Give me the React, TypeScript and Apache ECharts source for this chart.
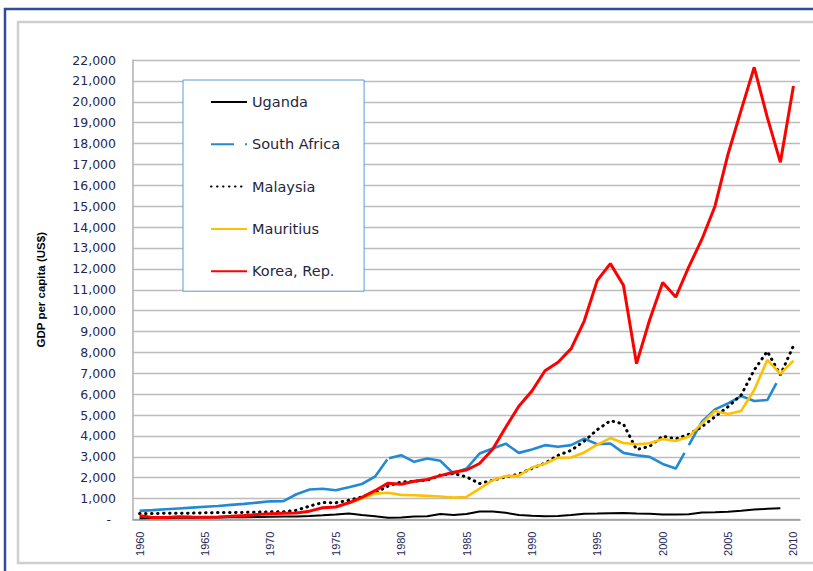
import React, { useEffect, useRef } from "react";
import * as echarts from "echarts";

const years: string[] = [];
for (let y = 1960; y <= 2010; y++) years.push(String(y));

const uganda = [
  65, 68, 70, 78, 88, 95, 100, 105, 110, 120,
  135, 140, 145, 170, 200, 240, 285, 210, 150, 85,
  90, 140, 160, 260, 220, 260, 380, 380, 320, 220,
  175, 160, 170, 220, 280, 285, 300, 315, 290, 270,
  240, 240, 255, 335, 350, 370, 415, 475, 510, 540,
  null,
];

const southAfrica = [
  413, 450, 490, 530, 570, 610, 650, 700, 750, 810,
  870, 880, 1210, 1440, 1470, 1400, 1540, 1700, 2050, 2920,
  3080, 2760, 2920, 2810, 2200, 2440, 3160, 3400, 3630, 3190,
  3350, 3560, 3480, 3560, 3870, 3600, 3640, 3190, 3080, 3000,
  2660, 2440, 3560, 4680, 5270, 5560, 5910, 5670, 5720, 6870,
  null,
];

const malaysia = [
  290, 290, 295, 300, 305, 320, 330, 330, 340, 355,
  365, 370, 440, 640, 810, 800, 920, 1080, 1280, 1600,
  1800, 1830, 1880, 2120, 2200, 2040, 1720, 1880, 2040, 2170,
  2450, 2700, 3070, 3310, 3750, 4300, 4730, 4570, 3350, 3500,
  3990, 3860, 4080, 4440, 4920, 5400, 5960, 7160, 8050, 6920,
  8320,
];

const mauritius = [
  null, null, null, null, null, null, null, null, null, null,
  null, null, null, null, null, null, 780, 1000, 1240, 1280,
  1180, 1160, 1130, 1100, 1050, 1080, 1480, 1880, 2080, 2100,
  2490, 2670, 2960, 2970, 3210, 3580, 3900, 3660, 3600, 3650,
  3850, 3760, 3970, 4600, 5200, 5050, 5200, 6200, 7640, 6970,
  7610,
];

const korea = [
  180, 100, 100, 130, 115, 105, 125, 150, 190, 235,
  270, 295, 315, 400, 560, 600, 800, 1060, 1380, 1740,
  1690, 1830, 1920, 2100, 2260, 2370, 2680, 3360, 4420, 5420,
  6150, 7120, 7530, 8180, 9500, 11450, 12250, 11220, 7460, 9550,
  11350, 10650, 12100, 13420, 15000, 17500, 19600, 21650, 19250, 17100,
  20750,
];

const seriesNames = ["Uganda", "South Africa", "Malaysia", "Mauritius", "Korea, Rep."];
// fractional category positions where the South Africa dash pattern breaks
const saGaps = [
  [18.94, 19.07],
  [41.67, 42.0],
  [48.7, 49.0],
];

const labelColor = "#1f2a55";

export default function App() {
  const ref = useRef<HTMLDivElement>(null);

  useEffect(() => {
    if (!ref.current) return;
    const chart = echarts.init(ref.current, undefined, { renderer: "svg" });

    const option: any = {
      animation: false,
      backgroundColor: "#ffffff",
      grid: { left: 133, right: 13, top: 60, bottom: 51.5, containLabel: false },
      graphic: [
        {
          type: "rect",
          silent: true,
          shape: { x: 5, y: 9, width: 900, height: 700 },
          style: { fill: "none", stroke: "#2f4d9c", lineWidth: 2.5 },
        },
        {
          type: "rect",
          silent: true,
          shape: { x: 18, y: 22, width: 900, height: 541 },
          style: { fill: "none", stroke: "#cfcfcf", lineWidth: 2.5 },
        },
      ],
      legend: {
        orient: "vertical",
        left: 183,
        top: 80,
        padding: [14, 24, 12, 27],
        itemGap: 26.3,
        itemWidth: 36,
        itemHeight: 16,
        backgroundColor: "#ffffff",
        borderColor: "#5b9bd5",
        borderWidth: 1,
        borderRadius: 0,
        selectedMode: false,
        itemStyle: { opacity: 0 },
        textStyle: {
          fontFamily: "DejaVu Sans",
          fontSize: 14.5,
          lineHeight: 16,
          color: "#1f2740",
        },
        data: [
          { name: "Uganda" },
          { name: "South Africa", lineStyle: { type: [23, 11, 2.5, 30] } },
          { name: "Malaysia" },
          { name: "Mauritius" },
          { name: "Korea, Rep." },
        ],
      },
      xAxis: {
        type: "category",
        data: years,
        boundaryGap: true,
        axisLine: { lineStyle: { color: "#9a9a9a", width: 1.5 } },
        axisTick: { show: false },
        splitLine: { show: false },
        axisLabel: {
          interval: 4,
          rotate: 90,
          margin: 12,
          fontFamily: "Liberation Sans",
          fontSize: 11,
          color: labelColor,
        },
      },
      yAxis: {
        type: "value",
        min: 0,
        max: 22000,
        interval: 1000,
        name: "GDP per capita (US$)",
        nameLocation: "middle",
        nameRotate: 90,
        nameGap: 86,
        nameTextStyle: {
          fontFamily: "Liberation Sans Narrow, Liberation Sans, sans-serif",
          fontWeight: "bold",
          fontSize: 11.5,
          color: "#000000",
        },
        axisLine: { show: true, lineStyle: { color: "#b0b0b0", width: 1.5 } },
        axisTick: { show: false },
        splitLine: { lineStyle: { color: "#bcbcbc", width: 1.4 } },
        axisLabel: {
          margin: 17,
          fontFamily: "DejaVu Sans",
          fontSize: 12.5,
          color: labelColor,
          formatter: (v: number) =>
            v === 0 ? "{d|-}" : v.toLocaleString("en-US"),
          rich: { d: { padding: [0, 5, 0, 0], fontFamily: "DejaVu Sans", fontSize: 12.5, color: labelColor } },
        },
      },
      series: [
        {
          name: seriesNames[0],
          type: "line",
          data: uganda,
          symbol: "none",
          lineStyle: { color: "#000000", width: 2 },
          itemStyle: { color: "#000000" },
        },
        {
          name: seriesNames[1],
          type: "line",
          data: southAfrica,
          symbol: "none",
          lineStyle: { color: "#2389d4", width: 2.6 },
          itemStyle: { color: "#2389d4" },
        },
        {
          name: seriesNames[2],
          type: "line",
          data: malaysia,
          symbol: "none",
          lineStyle: { color: "#000000", width: 3, type: [0.5, 5.5], cap: "round" },
          itemStyle: { color: "#000000" },
        },
        {
          name: seriesNames[3],
          type: "line",
          data: mauritius,
          symbol: "none",
          lineStyle: { color: "#ffc000", width: 2.6 },
          itemStyle: { color: "#ffc000" },
        },
        {
          name: seriesNames[4],
          type: "line",
          data: korea,
          symbol: "none",
          lineStyle: { color: "#ff0000", width: 3 },
          itemStyle: { color: "#ff0000" },
        },
      ],
    };

    chart.setOption(option);

    // Build South Africa's dash pattern from the pixel path given by the chart's own scales
    const pts: number[][] = [];
    for (let i = 0; i < southAfrica.length; i++) {
      const v = southAfrica[i];
      if (v == null) break;
      pts.push(chart.convertToPixel({ xAxisIndex: 0, yAxisIndex: 0 }, [i, v]) as number[]);
    }
    const cum = [0];
    for (let i = 1; i < pts.length; i++) {
      const dx = pts[i][0] - pts[i - 1][0];
      const dy = pts[i][1] - pts[i - 1][1];
      cum.push(cum[i - 1] + Math.sqrt(dx * dx + dy * dy));
    }
    const at = (f: number) => {
      const i = Math.min(Math.floor(f), cum.length - 2);
      const t = f - i;
      return cum[i] + t * (cum[i + 1] - cum[i]);
    };
    const dash: number[] = [];
    let prev = 0;
    saGaps.forEach(([s, e]) => {
      dash.push(Math.max(0.1, at(s) - prev));
      dash.push(Math.max(0.1, at(e) - at(s)));
      prev = at(e);
    });
    dash.push(5000, 10);
    chart.setOption({
      series: [{}, { lineStyle: { type: dash } }, {}, {}, {}],
    });

    return () => chart.dispose();
  }, []);

  return (
    <div
      ref={ref}
      style={{ position: "fixed", left: 0, top: 0, width: 813, height: 571 }}
    />
  );
}
